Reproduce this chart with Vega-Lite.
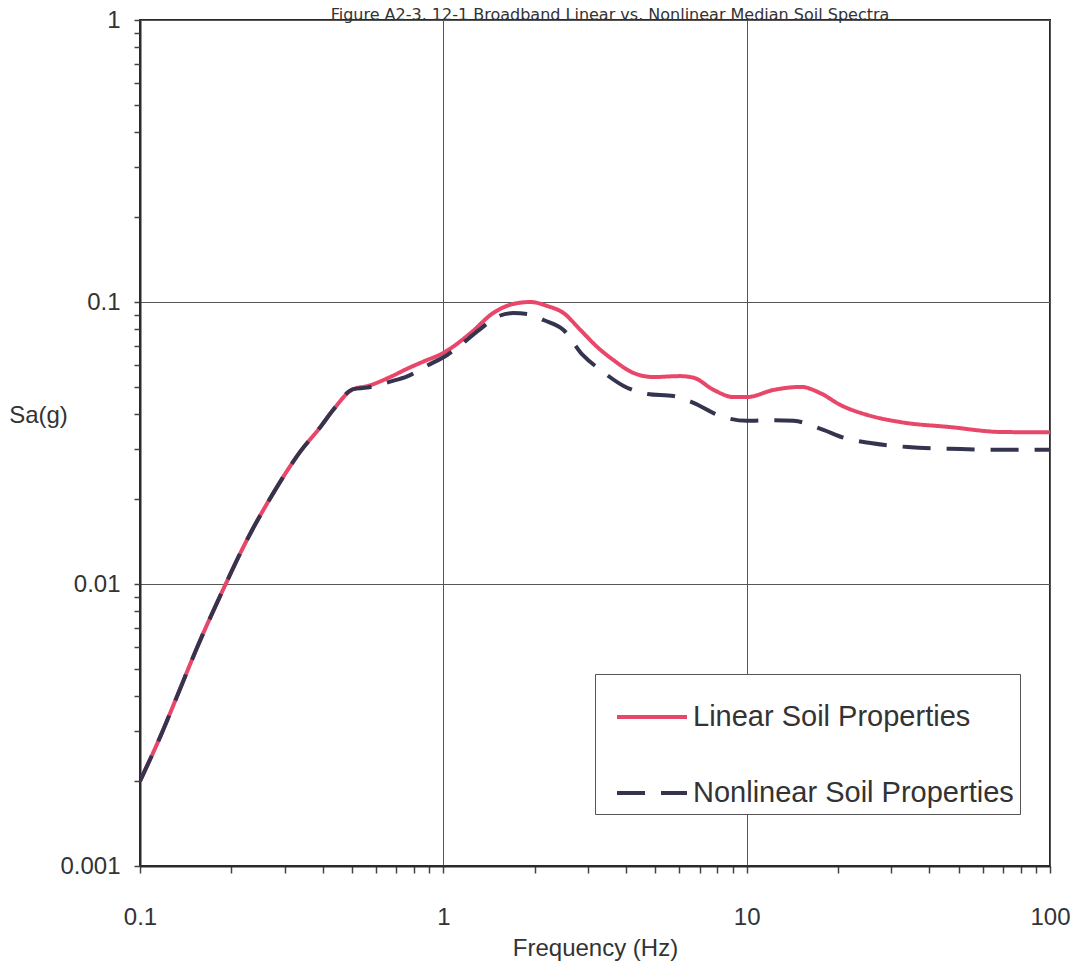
{
  "$schema": "https://vega.github.io/schema/vega-lite/v6.json",
  "width": 910,
  "height": 846,
  "autosize": {"type": "none"},
  "padding": {"left": 140, "top": 20, "right": 30, "bottom": 102},
  "config": {
    "font": "Liberation Sans",
    "view": {"stroke": "#2a2a2a", "strokeWidth": 2},
    "background": "white"
  },
  "title": {
    "text": "Figure A2-3.  12-1 Broadband Linear vs. Nonlinear Median Soil Spectra",
    "font": "DejaVu Sans",
    "fontSize": 16,
    "fontWeight": "normal",
    "color": "#333",
    "anchor": "middle",
    "dx": 15,
    "offset": -28,
    "baseline": "alphabetic"
  },
  "data": {
    "values": [
      {"f": 0.1, "sa": 0.002, "series": "Linear Soil Properties"},
      {"f": 0.118, "sa": 0.00296, "series": "Linear Soil Properties"},
      {"f": 0.133, "sa": 0.00404, "series": "Linear Soil Properties"},
      {"f": 0.154, "sa": 0.00593, "series": "Linear Soil Properties"},
      {"f": 0.19, "sa": 0.0098, "series": "Linear Soil Properties"},
      {"f": 0.225, "sa": 0.0143, "series": "Linear Soil Properties"},
      {"f": 0.275, "sa": 0.021, "series": "Linear Soil Properties"},
      {"f": 0.337, "sa": 0.0294, "series": "Linear Soil Properties"},
      {"f": 0.393, "sa": 0.036, "series": "Linear Soil Properties"},
      {"f": 0.433, "sa": 0.0414, "series": "Linear Soil Properties"},
      {"f": 0.505, "sa": 0.0491, "series": "Linear Soil Properties"},
      {"f": 0.561, "sa": 0.0503, "series": "Linear Soil Properties"},
      {"f": 0.668, "sa": 0.0542, "series": "Linear Soil Properties"},
      {"f": 0.76, "sa": 0.058, "series": "Linear Soil Properties"},
      {"f": 0.86, "sa": 0.0615, "series": "Linear Soil Properties"},
      {"f": 1.0, "sa": 0.066, "series": "Linear Soil Properties"},
      {"f": 1.23, "sa": 0.0776, "series": "Linear Soil Properties"},
      {"f": 1.46, "sa": 0.0914, "series": "Linear Soil Properties"},
      {"f": 1.7, "sa": 0.0984, "series": "Linear Soil Properties"},
      {"f": 1.94, "sa": 0.1, "series": "Linear Soil Properties"},
      {"f": 2.2, "sa": 0.0968, "series": "Linear Soil Properties"},
      {"f": 2.49, "sa": 0.0914, "series": "Linear Soil Properties"},
      {"f": 2.83, "sa": 0.0796, "series": "Linear Soil Properties"},
      {"f": 3.22, "sa": 0.0692, "series": "Linear Soil Properties"},
      {"f": 3.64, "sa": 0.0622, "series": "Linear Soil Properties"},
      {"f": 4.24, "sa": 0.056, "series": "Linear Soil Properties"},
      {"f": 4.93, "sa": 0.0542, "series": "Linear Soil Properties"},
      {"f": 6.05, "sa": 0.0546, "series": "Linear Soil Properties"},
      {"f": 6.68, "sa": 0.0539, "series": "Linear Soil Properties"},
      {"f": 7.78, "sa": 0.0488, "series": "Linear Soil Properties"},
      {"f": 9.06, "sa": 0.046, "series": "Linear Soil Properties"},
      {"f": 10.0, "sa": 0.046, "series": "Linear Soil Properties"},
      {"f": 12.3, "sa": 0.0488, "series": "Linear Soil Properties"},
      {"f": 15.1, "sa": 0.05, "series": "Linear Soil Properties"},
      {"f": 17.5, "sa": 0.0475, "series": "Linear Soil Properties"},
      {"f": 20.4, "sa": 0.0431, "series": "Linear Soil Properties"},
      {"f": 25.1, "sa": 0.0397, "series": "Linear Soil Properties"},
      {"f": 32.2, "sa": 0.0375, "series": "Linear Soil Properties"},
      {"f": 47.1, "sa": 0.036, "series": "Linear Soil Properties"},
      {"f": 68.9, "sa": 0.0346, "series": "Linear Soil Properties"},
      {"f": 100, "sa": 0.0345, "series": "Linear Soil Properties"},

      {"f": 0.1, "sa": 0.002, "series": "Nonlinear Soil Properties"},
      {"f": 0.118, "sa": 0.00296, "series": "Nonlinear Soil Properties"},
      {"f": 0.133, "sa": 0.00404, "series": "Nonlinear Soil Properties"},
      {"f": 0.154, "sa": 0.00593, "series": "Nonlinear Soil Properties"},
      {"f": 0.19, "sa": 0.0098, "series": "Nonlinear Soil Properties"},
      {"f": 0.225, "sa": 0.0143, "series": "Nonlinear Soil Properties"},
      {"f": 0.275, "sa": 0.021, "series": "Nonlinear Soil Properties"},
      {"f": 0.337, "sa": 0.0294, "series": "Nonlinear Soil Properties"},
      {"f": 0.393, "sa": 0.036, "series": "Nonlinear Soil Properties"},
      {"f": 0.433, "sa": 0.0414, "series": "Nonlinear Soil Properties"},
      {"f": 0.505, "sa": 0.0491, "series": "Nonlinear Soil Properties"},
      {"f": 0.561, "sa": 0.0497, "series": "Nonlinear Soil Properties"},
      {"f": 0.668, "sa": 0.0522, "series": "Nonlinear Soil Properties"},
      {"f": 0.76, "sa": 0.0545, "series": "Nonlinear Soil Properties"},
      {"f": 0.885, "sa": 0.0595, "series": "Nonlinear Soil Properties"},
      {"f": 1.03, "sa": 0.0649, "series": "Nonlinear Soil Properties"},
      {"f": 1.32, "sa": 0.08, "series": "Nonlinear Soil Properties"},
      {"f": 1.5, "sa": 0.0885, "series": "Nonlinear Soil Properties"},
      {"f": 1.7, "sa": 0.0914, "series": "Nonlinear Soil Properties"},
      {"f": 1.94, "sa": 0.0903, "series": "Nonlinear Soil Properties"},
      {"f": 2.14, "sa": 0.0863, "series": "Nonlinear Soil Properties"},
      {"f": 2.49, "sa": 0.0796, "series": "Nonlinear Soil Properties"},
      {"f": 2.88, "sa": 0.0649, "series": "Nonlinear Soil Properties"},
      {"f": 3.3, "sa": 0.0574, "series": "Nonlinear Soil Properties"},
      {"f": 3.93, "sa": 0.0504, "series": "Nonlinear Soil Properties"},
      {"f": 4.71, "sa": 0.0472, "series": "Nonlinear Soil Properties"},
      {"f": 5.74, "sa": 0.0464, "series": "Nonlinear Soil Properties"},
      {"f": 6.68, "sa": 0.0439, "series": "Nonlinear Soil Properties"},
      {"f": 8.2, "sa": 0.0394, "series": "Nonlinear Soil Properties"},
      {"f": 10.0, "sa": 0.0379, "series": "Nonlinear Soil Properties"},
      {"f": 12.0, "sa": 0.0381, "series": "Nonlinear Soil Properties"},
      {"f": 14.3, "sa": 0.0379, "series": "Nonlinear Soil Properties"},
      {"f": 17.9, "sa": 0.0352, "series": "Nonlinear Soil Properties"},
      {"f": 20.9, "sa": 0.033, "series": "Nonlinear Soil Properties"},
      {"f": 25.6, "sa": 0.0316, "series": "Nonlinear Soil Properties"},
      {"f": 34.0, "sa": 0.0306, "series": "Nonlinear Soil Properties"},
      {"f": 50.8, "sa": 0.0301, "series": "Nonlinear Soil Properties"},
      {"f": 76.0, "sa": 0.0299, "series": "Nonlinear Soil Properties"},
      {"f": 100, "sa": 0.0299, "series": "Nonlinear Soil Properties"}
    ]
  },
  "mark": {"type": "line", "strokeWidth": 4, "interpolate": "monotone", "clip": true},
  "encoding": {
    "x": {
      "field": "f",
      "type": "quantitative",
      "scale": {"type": "log", "domain": [0.1, 100], "nice": false},
      "axis": {
        "title": "Frequency (Hz)",
        "values": [0.1,0.2,0.3,0.4,0.5,0.6,0.7,0.8,0.9,1,2,3,4,5,6,7,8,9,10,20,30,40,50,60,70,80,90,100],
        "format": "~g",
        "labelExpr": "abs(log(datum.value)/LN10 - round(log(datum.value)/LN10)) < 0.001 ? datum.label : ''",
        "labelOverlap": false,
        "labelFlush": false,
        "labelFontSize": 24,
        "labelColor": "#333",
        "labelPadding": 32,
        "tickSize": 7,
        "tickColor": "#444",
        "tickWidth": 1.5,
        "domainColor": "#2a2a2a",
        "domainWidth": 2,
        "grid": true,
        "gridColor": "#555",
        "gridWidth": 1,
        "gridOpacity": {"condition": {"test": "abs(log(datum.value)/LN10 - round(log(datum.value)/LN10)) < 0.001", "value": 1}, "value": 0},
        "titleFontSize": 24,
        "titleFontWeight": "normal",
        "titleColor": "#333",
        "titlePadding": 7
      }
    },
    "y": {
      "field": "sa",
      "type": "quantitative",
      "scale": {"type": "log", "domain": [0.001, 1], "nice": false},
      "axis": {
        "title": "Sa(g)",
        "values": [0.001,0.002,0.003,0.004,0.005,0.006,0.007,0.008,0.009,0.01,0.02,0.03,0.04,0.05,0.06,0.07,0.08,0.09,0.1,0.2,0.3,0.4,0.5,0.6,0.7,0.8,0.9,1],
        "format": "~g",
        "labelExpr": "abs(log(datum.value)/LN10 - round(log(datum.value)/LN10)) < 0.001 ? datum.label : ''",
        "labelOverlap": false,
        "labelFlush": false,
        "labelFontSize": 24,
        "labelColor": "#333",
        "labelPadding": 14,
        "tickSize": 6,
        "tickColor": "#444",
        "tickWidth": 1.5,
        "domainColor": "#2a2a2a",
        "domainWidth": 2,
        "grid": true,
        "gridColor": "#555",
        "gridWidth": 1,
        "gridOpacity": {"condition": {"test": "abs(log(datum.value)/LN10 - round(log(datum.value)/LN10)) < 0.001", "value": 1}, "value": 0},
        "titleAngle": 0,
        "titleAlign": "center",
        "titleBaseline": "middle",
        "titleX": -102,
        "titleY": 395,
        "titleFontSize": 24,
        "titleFontWeight": "normal",
        "titleColor": "#333"
      }
    },
    "color": {
      "field": "series",
      "type": "nominal",
      "scale": {"domain": ["Linear Soil Properties", "Nonlinear Soil Properties"], "range": ["#e8476a", "#34344f"]},
      "legend": {
        "title": null,
        "orient": "none",
        "legendX": 455,
        "legendY": 654,
        "symbolType": "stroke",
        "symbolSize": 4900,
        "symbolStrokeWidth": 4,
        "symbolOffset": 14,
        "padding": 6,
        "rowPadding": 24,
        "labelOffset": 4,
        "labelFontSize": 29,
        "labelColor": "#333",
        "labelLimit": 400,
        "strokeColor": "#555",
        "fillColor": "white"
      }
    },
    "strokeDash": {
      "field": "series",
      "type": "nominal",
      "scale": {"domain": ["Linear Soil Properties", "Nonlinear Soil Properties"], "range": [[1, 0], [28, 16]]},
      "legend": {
        "title": null,
        "orient": "none",
        "legendX": 455,
        "legendY": 654,
        "symbolType": "stroke",
        "symbolSize": 4900,
        "symbolStrokeWidth": 4,
        "symbolOffset": 14,
        "padding": 6,
        "rowPadding": 24,
        "labelOffset": 4,
        "labelFontSize": 29,
        "labelColor": "#333",
        "labelLimit": 400,
        "strokeColor": "#555",
        "fillColor": "white"
      }
    }
  }
}
